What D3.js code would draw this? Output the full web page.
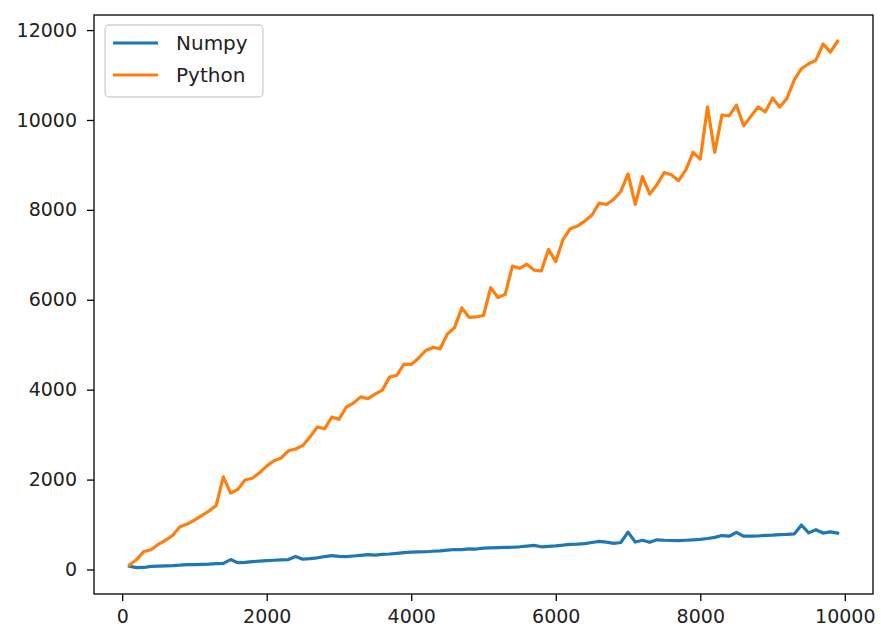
<!DOCTYPE html>
<html>
<head>
<meta charset="utf-8">
<script src="https://cdn.jsdelivr.net/npm/d3@7"></script>
<style>
  body { margin: 0; background: #fff; }
  text { font-family: "DejaVu Sans", sans-serif; }
</style>
</head>
<body>
<svg id="chart" width="881" height="628"></svg>
<script>
// array sizes (x axis), 100..9900 step 100
const sizes = d3.range(100, 10000, 100);

// timings
const numpyTimes = [
  70, 40, 45, 70, 75, 80, 85, 95, 110, 110,
  115, 120, 130, 135, 220, 150, 160, 175, 185, 195,
  205, 215, 220, 290, 230, 240, 260, 285, 310, 290,
  285, 300, 315, 330, 320, 335, 345, 360, 375, 385,
  390, 395, 405, 415, 430, 445, 440, 460, 455, 475,
  480, 485, 490, 495, 505, 520, 535, 505, 515, 525,
  540, 560, 565, 575, 600, 625, 610, 580, 600, 830,
  610, 650, 605, 660, 650, 645, 640, 650, 660, 670,
  690, 715, 755, 740, 825, 740, 740, 745, 760, 765,
  775, 780, 790, 990, 815, 885, 810, 835, 810
];
const pythonTimes = [
  100, 220, 400, 440, 560, 650, 760, 950, 1010, 1100,
  1200, 1300, 1420, 2060, 1700, 1780, 1990, 2030, 2150, 2300,
  2420, 2480, 2640, 2680, 2760, 2950, 3170, 3130, 3390, 3340,
  3610, 3700, 3840, 3800, 3900, 3990, 4280, 4320, 4570, 4560,
  4700, 4870, 4940, 4910, 5240, 5380, 5820, 5610, 5620, 5650,
  6270, 6050, 6120, 6750, 6700, 6790, 6660, 6640, 7120, 6850,
  7340, 7580, 7640, 7750, 7880, 8150, 8120, 8230, 8410, 8800,
  8120, 8740, 8350, 8560, 8830, 8780, 8650, 8890, 9280, 9130,
  10290, 9280, 10110, 10090, 10330, 9870, 10080, 10290, 10180, 10490,
  10290, 10480, 10890, 11140, 11250, 11330, 11690, 11510, 11750
];

const seriesNames = ["Numpy", "Python"];
const seriesColors = ["#1f77b4", "#ff7f0e"];
const xTicks = [0, 2000, 4000, 6000, 8000, 10000];
const yTicks = [0, 2000, 4000, 6000, 8000, 10000, 12000];

const series = [numpyTimes, pythonTimes].map((vals, k) => ({
  name: seriesNames[k],
  color: seriesColors[k],
  values: vals.map((v, i) => ({ x: sizes[i], y: v }))
}));

const plot = { left: 94, top: 15, right: 873, bottom: 594 };
const fontSize = 19;

const svg = d3.select("#chart");

// matplotlib style 5% margins
function padded(extent) {
  const m = (extent[1] - extent[0]) * 0.05;
  return [extent[0] - m, extent[1] + m];
}
const allY = numpyTimes.concat(pythonTimes);

const x = d3.scaleLinear()
  .domain(padded(d3.extent(sizes)))
  .range([plot.left, plot.right]);
const y = d3.scaleLinear()
  .domain(padded(d3.extent(allY)))
  .range([plot.bottom, plot.top]);

const line = d3.line()
  .x(d => x(d.x))
  .y(d => y(d.y));

svg.append("defs").append("clipPath")
  .attr("id", "clip")
  .append("rect")
  .attr("x", plot.left).attr("y", plot.top)
  .attr("width", plot.right - plot.left)
  .attr("height", plot.bottom - plot.top);

svg.append("g")
  .attr("clip-path", "url(#clip)")
  .selectAll("path")
  .data(series)
  .enter()
    .append("path")
    .attr("d", d => line(d.values))
    .attr("fill", "none")
    .attr("stroke", d => d.color)
    .attr("stroke-width", 3.2)
    .attr("stroke-linejoin", "round")
    .attr("stroke-linecap", "square");

// axes
const xAxis = svg.append("g")
  .attr("transform", `translate(0,${plot.bottom})`)
  .call(d3.axisBottom(x).tickValues(xTicks).tickSize(7).tickPadding(9).tickFormat(d3.format("d")));
const yAxis = svg.append("g")
  .attr("transform", `translate(${plot.left},0)`)
  .call(d3.axisLeft(y).tickValues(yTicks).tickSize(7).tickPadding(10).tickFormat(d3.format("d")));

[xAxis, yAxis].forEach(g => {
  g.select(".domain").remove();
  g.selectAll(".tick line").attr("stroke", "#000").attr("stroke-width", 1.3);
  g.selectAll(".tick text")
    .attr("fill", "#222")
    .style("font-size", fontSize + "px")
    .style("font-family", "'DejaVu Sans', sans-serif");
});

// frame
svg.append("rect")
  .attr("x", plot.left).attr("y", plot.top)
  .attr("width", plot.right - plot.left)
  .attr("height", plot.bottom - plot.top)
  .attr("fill", "none")
  .attr("stroke", "#000")
  .attr("stroke-width", 1.3);

// legend
const legend = svg.append("g").attr("transform", "translate(105,25)");
legend.append("rect")
  .attr("width", 158).attr("height", 72)
  .attr("rx", 4).attr("ry", 4)
  .attr("fill", "#fff").attr("fill-opacity", 0.8)
  .attr("stroke", "#d0d0d0").attr("stroke-width", 1.3);

const items = legend.selectAll("g.item")
  .data(series)
  .enter()
    .append("g")
    .attr("class", "item")
    .attr("transform", (d, i) => `translate(0,${18 + i * 32})`);

items.append("line")
  .attr("x1", 8).attr("x2", 53)
  .attr("y1", 0).attr("y2", 0)
  .attr("stroke", d => d.color)
  .attr("stroke-width", 3.2);

items.append("text")
  .attr("x", 71).attr("y", 0)
  .attr("dy", "0.36em")
  .attr("fill", "#222")
  .style("font-size", (fontSize + 1) + "px")
  .text(d => d.name);
</script>
</body>
</html>
